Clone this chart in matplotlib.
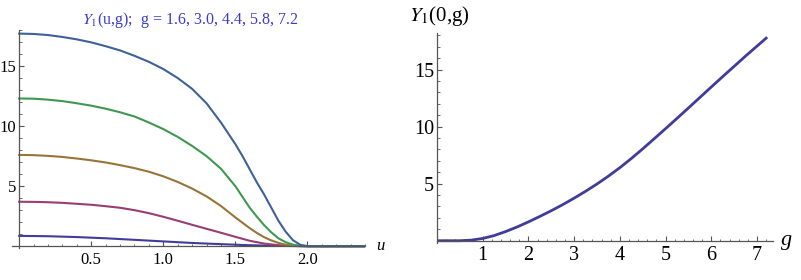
import matplotlib as mpl
mpl.use('Agg')
import matplotlib.pyplot as plt
from matplotlib.ticker import MultipleLocator, FixedLocator

serif = ['Liberation Serif', 'DejaVu Serif']
plt.rcParams['font.family'] = serif
plt.rcParams['mathtext.fontset'] = 'stix'

# left panel: Y1(u, g) for several g
g_values = [1.6, 3.0, 4.4, 5.8, 7.2]

u_g16 = [0, 0.2, 0.4, 0.6, 0.8, 1.0, 1.2, 1.4, 1.6, 1.8, 2.0, 2.4]
y_g16 = [0.86, 0.83, 0.76, 0.66, 0.53, 0.4, 0.27, 0.17, 0.08, 0.03, 0, 0]

u_g30 = [0, 0.1, 0.2, 0.3, 0.4, 0.5, 0.6, 0.7, 0.8, 0.9, 1.0, 1.1, 1.2, 1.3, 1.4, 1.5, 1.6, 1.7, 1.8, 1.9, 2.0, 2.4]
y_g30 = [3.7, 3.69, 3.66, 3.61, 3.53, 3.45, 3.33, 3.2, 3.0, 2.75, 2.45, 2.12, 1.78, 1.45, 1.12, 0.78, 0.45, 0.22, 0.08, 0.02, 0, 0]

u_g44 = [0, 0.1, 0.2, 0.3, 0.4, 0.5, 0.6, 0.7, 0.8, 0.9, 1.0, 1.1, 1.2, 1.3, 1.4, 1.5, 1.6, 1.65, 1.7, 1.75, 1.8, 1.85, 1.9, 1.95, 2.0, 2.4]
y_g44 = [7.6, 7.58, 7.52, 7.43, 7.3, 7.15, 6.97, 6.75, 6.5, 6.2, 5.82, 5.35, 4.8, 4.15, 3.35, 2.4, 1.5, 1.1, 0.75, 0.48, 0.27, 0.12, 0.05, 0.01, 0, 0]

u_g58 = [0, 0.1, 0.2, 0.3, 0.4, 0.5, 0.6, 0.7, 0.8, 0.9, 1.0, 1.1, 1.2, 1.3, 1.4, 1.5, 1.55, 1.6, 1.65, 1.7, 1.75, 1.8, 1.85, 1.9, 1.95, 2.0, 2.4]
y_g58 = [12.3, 12.28, 12.2, 12.08, 11.9, 11.7, 11.45, 11.15, 10.8, 10.3, 9.75, 9.1, 8.35, 7.5, 6.45, 5.0, 4.1, 3.2, 2.45, 1.75, 1.15, 0.65, 0.33, 0.13, 0.03, 0, 0]

u_g72 = [0, 0.1, 0.2, 0.3, 0.4, 0.5, 0.6, 0.7, 0.8, 0.9, 1.0, 1.1, 1.2, 1.3, 1.4, 1.5, 1.55, 1.6, 1.65, 1.7, 1.75, 1.8, 1.85, 1.9, 1.95, 2.0, 2.05, 2.4]
y_g72 = [17.7, 17.67, 17.58, 17.42, 17.22, 16.97, 16.65, 16.3, 15.85, 15.35, 14.75, 14.0, 13.1, 11.9, 10.3, 8.5, 7.5, 6.4, 5.3, 4.3, 3.2, 2.1, 1.2, 0.5, 0.12, 0.01, 0, 0]

curves = [(u_g16, y_g16), (u_g30, y_g30), (u_g44, y_g44), (u_g58, y_g58), (u_g72, y_g72)]
colors = ['#3f3d99', '#993d74', '#997439', '#3d9951', '#3d6299']

# right panel: Y1(0, g)
g_axis = [0, 0.5, 0.75, 1.0, 1.25, 1.5, 1.75, 2.0, 2.25, 2.5, 2.75, 3.0, 3.25, 3.5, 3.75, 4.0,
          4.25, 4.5, 4.75, 5.0, 5.25, 5.5, 5.75, 6.0, 6.25, 6.5, 6.75, 7.0, 7.2]
y0_g = [0, 0, 0.05, 0.2, 0.45, 0.8, 1.2, 1.65, 2.13, 2.63, 3.16, 3.73, 4.33, 4.97, 5.66, 6.4,
        7.2, 8.05, 8.93, 9.82, 10.72, 11.63, 12.55, 13.47, 14.38, 15.28, 16.18, 17.05, 17.75]

axis_col = '#555555'

fig = plt.figure(figsize=(8.01, 2.8), dpi=100)


def style_axes(ax, fs):
    for s in ['top', 'right']:
        ax.spines[s].set_visible(False)
    ax.spines['left'].set_position(('data', 0))
    ax.spines['bottom'].set_position(('data', 0))
    for s in ['left', 'bottom']:
        ax.spines[s].set_color(axis_col)
        ax.spines[s].set_linewidth(0.9)
    ax.tick_params(which='both', direction='in', colors=axis_col, labelcolor='black',
                   labelsize=fs, labelfontfamily=serif[0])
    ax.tick_params(which='major', length=3.5, width=0.8)
    ax.tick_params(which='minor', length=1.8, width=0.6)
    ax.tick_params(axis='y', pad=2)
    ax.tick_params(axis='x', pad=4)
    ax.patch.set_alpha(0)


# sub-figure 1
ax1 = fig.add_axes([12 / 801, 1 - 248 / 280, 353 / 801, 218 / 280])
for (u, y), c in zip(curves, colors):
    ax1.plot(u, y, color=c, lw=1.5)
ax1.set_xlim(-0.05, 2.4)
ax1.set_ylim(-0.15, 18)
ax1.xaxis.set_major_locator(FixedLocator([0.5, 1.0, 1.5, 2.0]))
ax1.xaxis.set_minor_locator(MultipleLocator(0.1))
ax1.yaxis.set_major_locator(FixedLocator([5, 10, 15]))
ax1.yaxis.set_minor_locator(MultipleLocator(1))
ax1.set_xticklabels(['0.5', '1.0', '1.5', '2.0'])
ax1.set_yticklabels(['5', '10', '15'])
style_axes(ax1, 12)
fig.text(380 / 801, 1 - 246 / 280, 'u', fontsize=12, fontstyle='italic', va='center', ha='center')
title = r'$Y_1$(u,g);  g = ' + ', '.join(f'{g:.1f}' for g in g_values)
fig.text(190 / 801, 1 - 20 / 280, title, fontsize=11.5, color='#3b3bd6', ha='center', va='center')

# sub-figure 2
ax2 = fig.add_axes([437 / 801, 1 - 243 / 280, 336 / 801, 210 / 280])
ax2.plot(g_axis, y0_g, color='#3f3d99', lw=2.0)
ax2.set_xlim(0, 7.35)
ax2.set_ylim(-0.2, 18.2)
ax2.xaxis.set_major_locator(FixedLocator([1, 2, 3, 4, 5, 6, 7]))
ax2.xaxis.set_minor_locator(MultipleLocator(0.2))
ax2.yaxis.set_major_locator(FixedLocator([5, 10, 15]))
ax2.yaxis.set_minor_locator(MultipleLocator(1))
ax2.set_xticklabels([str(v) for v in range(1, 8)])
ax2.set_yticklabels(['5', '10', '15'])
style_axes(ax2, 14.5)
fig.text(787 / 801, 1 - 241 / 280, 'g', fontsize=16, fontstyle='italic', va='center', ha='center')
fig.text(409 / 801, 1 - 16 / 280, r'$Y_1$(0,g)', fontsize=15, ha='left', va='center')

plt.savefig('out.png', dpi=100)
